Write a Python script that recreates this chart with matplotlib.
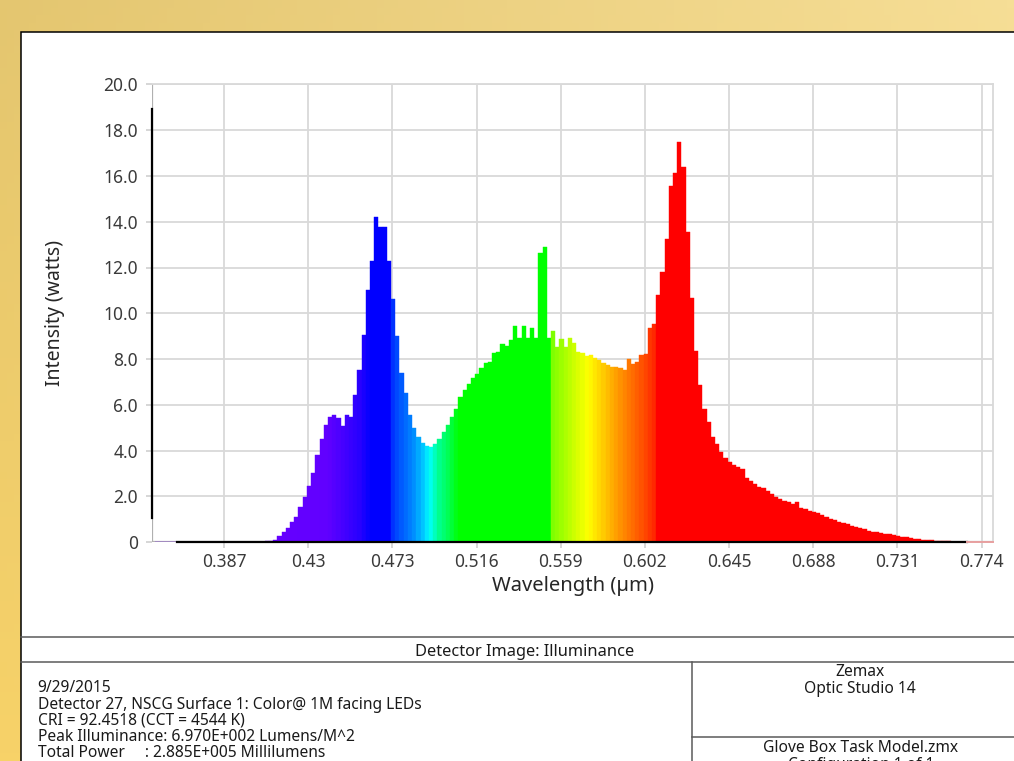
import numpy as np
import matplotlib.pyplot as plt
from matplotlib.patches import Rectangle

plt.rcParams['font.family'] = ['Noto Sans', 'DejaVu Sans']

# histogram bins (um)
bin_start = 0.3519
bin_width = 0.00215

# intensity (watts) per bin
intensity = [0.0] * 20 + [
    0.01, 0.01, 0.015, 0.02, 0.02, 0.03, 0.04, 0.06, 0.12, 0.27,
    0.46, 0.64, 0.87, 1.12, 1.53, 1.99, 2.47, 3.04, 3.81, 4.51,
    5.11, 5.47, 5.56, 5.41, 5.09, 5.56, 5.47, 6.43, 7.52, 9.05,
    11.0, 12.28, 14.19, 13.76, 13.76, 12.3, 10.61, 9.0, 7.38, 6.53,
    5.56, 5.0, 4.59, 4.32, 4.22, 4.15, 4.28, 4.51, 4.8, 5.12,
    5.46, 5.82, 6.36, 6.65, 6.9, 7.16, 7.34, 7.6, 7.82, 7.89,
    8.28, 8.31, 8.67, 8.59, 8.82, 9.45, 8.91, 9.43, 8.91, 9.34,
    8.91, 12.65, 12.91, 8.91, 9.23, 8.54, 8.86, 8.54, 8.93, 8.72,
    8.32, 8.25, 8.15, 8.19, 8.03, 7.96, 7.84, 7.74, 7.67, 7.64,
    7.6, 7.52, 8.0, 7.79, 7.86, 8.17, 8.22, 9.34, 9.52, 10.8,
    11.82, 13.23, 15.56, 16.11, 17.49, 16.4, 13.56, 10.65, 8.37, 6.87,
    5.81, 5.27, 4.61, 4.29, 3.94, 3.69, 3.49, 3.38, 3.28, 3.19,
    2.79, 2.68, 2.55, 2.43, 2.36, 2.25, 2.11, 1.99, 1.89, 1.82,
    1.75, 1.67, 1.77, 1.51, 1.44, 1.38, 1.34, 1.27, 1.19, 1.12,
    1.0, 0.97, 0.9, 0.83, 0.8, 0.71, 0.68, 0.61, 0.57, 0.51,
    0.46, 0.44, 0.42, 0.36, 0.35, 0.32, 0.28, 0.24, 0.22, 0.2,
    0.16, 0.14, 0.11, 0.1, 0.09, 0.07, 0.06, 0.05, 0.04, 0.03,
    0.02, 0.01, 0.005,
]

x_ticks = [0.387, 0.43, 0.473, 0.516, 0.559, 0.602, 0.645, 0.688, 0.731, 0.774]
x_tick_labels = ['0.387', '0.43', '0.473', '0.516', '0.559', '0.602',
                 '0.645', '0.688', '0.731', '0.774']
y_ticks = [0, 2, 4, 6, 8, 10, 12, 14, 16, 18, 20]
y_tick_labels = ['0', '2.0', '4.0', '6.0', '8.0', '10.0', '12.0', '14.0',
                 '16.0', '18.0', '20.0']

info_lines = [
    '9/29/2015',
    'Detector 27, NSCG Surface 1: Color@ 1M facing LEDs',
    'CRI = 92.4518 (CCT = 4544 K)',
    'Peak Illuminance: 6.970E+002 Lumens/M^2',
    'Total Power     : 2.885E+005 Millilumens',
]

# spectrum colour ramp (wavelength, r, g, b)
ramp = np.array([
    [0.340, 0.45, 0.0, 1.0],
    [0.440, 0.38, 0.0, 1.0],
    [0.456, 0.16, 0.0, 1.0],
    [0.462, 0.00, 0.0, 1.0],
    [0.4725, 0.0, 0.0, 1.0],
    [0.4735, 0.0, 0.22, 1.0],
    [0.484, 0.0, 0.55, 1.0],
    [0.489, 0.0, 0.80, 1.0],
    [0.492, 0.0, 1.0, 1.0],
    [0.497, 0.0, 1.0, 0.55],
    [0.503, 0.0, 1.0, 0.25],
    [0.507, 0.0, 1.0, 0.0],
    [0.5535, 0.0, 1.0, 0.0],
    [0.5545, 0.48, 1.0, 0.0],
    [0.573, 1.0, 1.0, 0.0],
    [0.5895, 1.0, 0.57, 0.0],
    [0.600, 1.0, 0.33, 0.0],
    [0.607, 1.0, 0.15, 0.0],
    [0.608, 1.0, 0.0, 0.0],
    [0.800, 1.0, 0.0, 0.0],
])


def spectrum_color(wl):
    return tuple(np.interp(wl, ramp[:, 0], ramp[:, c]) for c in (1, 2, 3))


W, H = 1014, 761
fig = plt.figure(figsize=(W / 100, H / 100), dpi=100)

# golden background + white report panel
bg = fig.add_axes([0, 0, 1, 1], zorder=-5)
yy, xx = np.mgrid[0:1:100j, 0:1:140j]
tl = np.array([228, 198, 112]) / 255
tr = np.array([246, 222, 150]) / 255
bl = np.array([247, 210, 104]) / 255
br = np.array([247, 214, 118]) / 255
grad = ((1 - xx)[..., None] * (1 - yy)[..., None] * tl + xx[..., None] * (1 - yy)[..., None] * tr
        + (1 - xx)[..., None] * yy[..., None] * bl + xx[..., None] * yy[..., None] * br)
bg.imshow(grad, extent=[0, 1, 0, 1], aspect='auto', origin='upper')
bg.set_xlim(0, 1)
bg.set_ylim(0, 1)
bg.axis('off')
left_px, top_px = 20.5, 32.3
bg.add_patch(Rectangle((left_px / W, -0.02), 1.1, 1 - top_px / H + 0.02,
                       facecolor='white', edgecolor='black', linewidth=1.1))
lc = '#5a5a5a'
bg.plot([left_px / W, 1], [1 - 636.5 / H] * 2, color=lc, lw=1.1)
bg.plot([left_px / W, 1], [1 - 661.5 / H] * 2, color=lc, lw=1.1)
bg.plot([691.5 / W] * 2, [0, 1 - 661.5 / H], color=lc, lw=1.1)
bg.plot([691.5 / W, 1], [1 - 736.7 / H] * 2, color=lc, lw=1.1)

tc = '#1a1a1a'
fs = 11.2
fig.text(525 / W, 1 - 652 / H, 'Detector Image: Illuminance', ha='center', va='center',
         fontsize=11.8, color=tc)
for i, line in enumerate(info_lines):
    fig.text(37.5 / W, 1 - (688.5 + 16.2 * i) / H, line, ha='left', va='center',
             fontsize=fs, color=tc, linespacing=1.0)
fig.text(860 / W, 1 - 672 / H, 'Zemax', ha='center', va='center', fontsize=fs, color=tc)
fig.text(860 / W, 1 - 689 / H, 'Optic Studio 14', ha='center', va='center', fontsize=fs, color=tc)
fig.text(861 / W, 1 - 748.5 / H, 'Glove Box Task Model.zmx', ha='center', va='center',
         fontsize=fs, color=tc)
fig.text(861 / W, 1 - 765 / H, 'Configuration 1 of 1', ha='center', va='center',
         fontsize=fs, color=tc)

# plot area
ax_l, ax_r, ax_t, ax_b = 151.7, 993.3, 84.3, 542.3
ax = fig.add_axes([ax_l / W, 1 - ax_b / H, (ax_r - ax_l) / W, (ax_b - ax_t) / H])
ax.set_facecolor('white')

edges = bin_start + bin_width * np.arange(len(intensity))
colors = [spectrum_color(e + bin_width / 2) for e in edges]
ax.bar(edges, intensity, width=bin_width, align='edge', color=colors,
       edgecolor=colors, linewidth=0.3, zorder=2)

ax.set_xlim(0.35, 0.78)
ax.set_ylim(0, 20)
ax.set_xticks(x_ticks, x_tick_labels)
ax.set_yticks(y_ticks, y_tick_labels)
ax.grid(True, color='#d9d9d9', linewidth=1.3)
ax.set_axisbelow(True)
ax.tick_params(axis='both', colors='#d0d0d0', labelcolor='#3a3a3a', labelsize=12.5,
               length=4, width=1.2)
ax.tick_params(axis='x', pad=4)
ax.tick_params(axis='y', pad=6)

for side in ('top', 'right'):
    ax.spines[side].set_color('#d9d9d9')
    ax.spines[side].set_linewidth(1.3)
ax.spines['left'].set_color('black')
ax.spines['left'].set_linewidth(1.6)
ax.spines['left'].set_bounds(1.05, 18.9)
ax.spines['bottom'].set_color('black')
ax.spines['bottom'].set_linewidth(1.6)
ax.spines['bottom'].set_bounds(0.3628, 0.7667)
ax.axvline(0.35, color='#b0b0b0', lw=1.6, zorder=1)
ax.axhline(0, color='#b0b0b0', lw=1.6, zorder=1)
ax.plot([0.7667, 0.78], [0, 0], color='#e8a0a0', lw=1.4, zorder=3, clip_on=False)

ax.set_xlabel('Wavelength (\u00b5m)', fontsize=14.5, color='#262626', va='center')
ax.xaxis.set_label_coords(0.5, (ax_b - 586) / (ax_b - ax_t))
ax.set_ylabel('Intensity (watts)', fontsize=14, color='#262626', va='center')
ax.yaxis.set_label_coords((55 - ax_l) / (ax_r - ax_l), 0.5)

fig.savefig('out.png', dpi=100)
